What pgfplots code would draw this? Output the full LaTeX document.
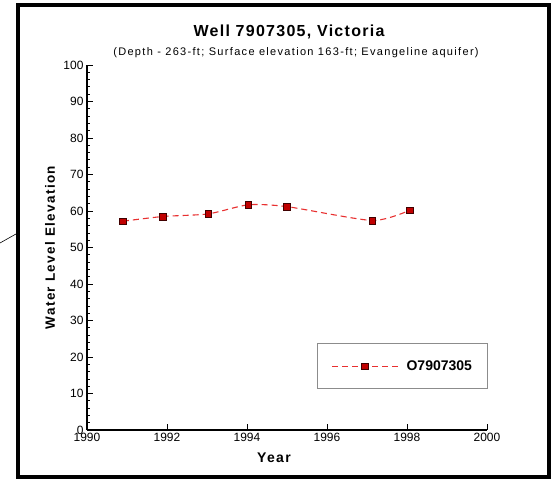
\documentclass[border=0pt]{standalone}
\usepackage{pgfplots}
\pgfplotsset{compat=1.18}
\usepackage{fontspec}
\setmainfont{Liberation Sans}
\newfontfamily\titlefont[LetterSpace=8]{Liberation Sans}
\newfontfamily\subfont[LetterSpace=12]{Liberation Sans}
\newfontfamily\labfont[LetterSpace=10]{Liberation Sans}
\definecolor{lineRed}{HTML}{E83030}
\definecolor{markRed}{HTML}{C00000}
\begin{document}
\begin{tikzpicture}[x=1pt,y=1pt]
\useasboundingbox (0,0) rectangle (552,480);
\draw[line width=3.5pt] (18,3) rectangle (549,475);
\draw[line width=0.6pt] (0,237) -- (16,246);
\begin{axis}[
  at={(87pt,50pt)}, anchor=south west,
  scale only axis, width=400pt, height=365pt,
  xmin=1990, xmax=2000, ymin=0, ymax=100,
  axis x line=bottom, axis y line=left,
  axis line style={-, line width=1.3pt},
  xtick={1990,1992,...,2000}, ytick={0,10,...,100},
  minor x tick num=4, minor y tick num=4,
  tick align=inside, major tick length=6pt, minor tick length=3pt,
  tick style={black, line width=0.8pt},
  xticklabel style={/pgf/number format/set thousands separator={}, /pgf/number format/1000 sep={}},
  ticklabel style={font=\fontsize{12}{12}\selectfont},
  /pgf/number format/assume math mode=true,
  xlabel={Year},
  xlabel style={font=\labfont\fontsize{14}{14}\selectfont\bfseries, at={(rel axis cs:0.5,0)}, anchor=center, yshift=-28pt, xshift=-13pt},
  ylabel={Water Level Elevation},
  ylabel style={font=\labfont\fontsize{13.5}{13.5}\selectfont\bfseries, at={(axis description cs:-0.0925,0.5)}, anchor=center},
  legend style={at={(rel axis cs:0.575,0.238)}, anchor=north west, draw=black!45, line width=1pt,
    font=\fontsize{14}{14}\selectfont\bfseries, inner xsep=14pt, inner ysep=15pt,
    legend cell align=left},
  legend image code/.code={\draw[#1, mark repeat=2, mark phase=2] plot coordinates {(0pt,0pt) (33pt,0pt) (66pt,0pt)};},
]
\addplot[smooth, tension=0.4, color=lineRed, line width=1.1pt, dash pattern=on 6pt off 4pt,
  mark=square*, mark size=3.4pt,
  mark options={solid, fill=markRed, draw=black!75!red, line width=0.6pt}]
  coordinates {
  (1990.9,57.2) (1991.9,58.5) (1993.03,59.2) (1994.03,61.7) (1995.0,61.2) (1997.13,57.4) (1998.07,60.2)
  };
\addlegendentry{\hspace{6pt}O7907305}
\end{axis}
\node[font=\titlefont\fontsize{16}{16}\selectfont\bfseries] at (289,448) {Well 7907305, Victoria};
\node[font=\subfont\fontsize{11}{11}\selectfont] at (296,427) {(Depth - 263-ft; Surface elevation 163-ft; Evangeline aquifer)};
\end{tikzpicture}
\end{document}
